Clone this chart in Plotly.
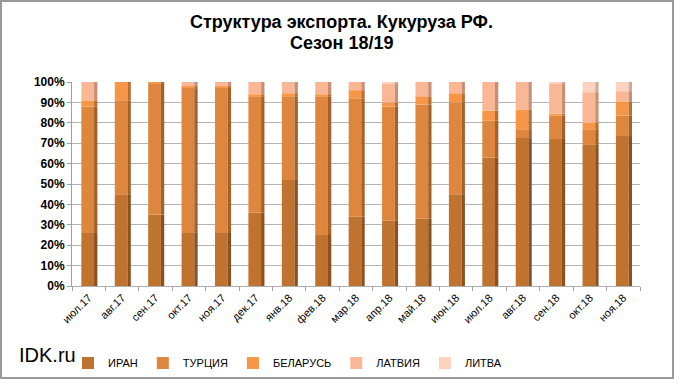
import plotly.graph_objects as go

months = ["июл.17", "авг.17", "сен.17", "окт.17", "ноя.17", "дек.17", "янв.18", "фев.18",
          "мар.18", "апр.18", "май.18", "июн.18", "июл.18", "авг.18", "сен.18", "окт.18", "ноя.18"]

iran      = [26, 45, 35, 26, 26, 36, 52, 25, 34, 32, 33, 45, 63, 72.5, 72, 69.5, 73.5]
turkey    = [62, 46, 64, 71, 71, 57, 41, 68, 58, 56, 56, 45, 18, 4, 11.5, 7, 10]
belarus   = [3, 9, 1, 1, 1, 1, 1.5, 1, 4, 2, 4, 4.5, 5, 10, 1, 3.5, 7]
latvia    = [9, 0, 0, 2, 2, 6, 5.5, 6, 4, 9.5, 7, 5.5, 14, 13.5, 15, 15, 5]
lithuania = [0, 0, 0, 0, 0, 0, 0, 0, 0, 0.5, 0, 0, 0, 0, 0.5, 5, 4.5]

series_names = ["ИРАН", "ТУРЦИЯ", "БЕЛАРУСЬ", "ЛАТВИЯ", "ЛИТВА"]
series_vals = [iran, turkey, belarus, latvia, lithuania]
front_colors = ["#C0722F", "#DE863E", "#F79646", "#F9B796", "#FBD3BF"]
side_colors = ["#8A5122", "#A3622C", "#B86E33", "#C98F75", "#D1AB98"]

fig = go.Figure()
base = [0.0] * len(months)
for name, vals, fc, sc in zip(series_names, series_vals, front_colors, side_colors):
    fr = [v / 100 for v in vals]
    fig.add_trace(go.Bar(
        x=months, y=fr, base=list(base), name=name,
        marker=dict(color=fc, line=dict(width=0)),
        width=0.38, offset=-0.22, legendgroup=name, showlegend=True,
        hoverinfo="skip"))
    fig.add_trace(go.Bar(
        x=months, y=fr, base=list(base), name=name,
        marker=dict(color=sc, line=dict(width=0)),
        width=0.1, offset=0.16, legendgroup=name, showlegend=False,
        hoverinfo="skip"))
    base = [b + f for b, f in zip(base, fr)]

L, R, T, B = 72, 40, 82, 98
W, H = 680, 384
pw, ph = W - L - R, H - T - B

def px(x):
    return (x - L) / pw

def py(y):
    return (H - B - y) / ph

fig.update_layout(
    width=W, height=H,
    barmode="overlay",
    paper_bgcolor="white", plot_bgcolor="white",
    margin=dict(l=L, r=R, t=T, b=B, autoexpand=False),
    font=dict(family="Liberation Sans, Arial", color="black"),
    xaxis=dict(type="category", tickangle=-45, showgrid=False,
               tickfont=dict(size=11, color="black"),
               ticks="outside", ticklen=4, tickcolor="#A0A0A0", tickson="boundaries",
               showline=True, linecolor="#B0B0B0"),
    yaxis=dict(range=[0, 1.0], tickvals=[i / 10 for i in range(11)],
               tickformat=".0%", showgrid=True, gridcolor="#B4B4B4", gridwidth=1,
               tickfont=dict(size=12, color="black", family="Liberation Sans, Arial",
                             weight="bold"),
               showline=True, linecolor="#A0A0A0", ticks="outside", ticklen=4,
               tickcolor="#A0A0A0", zeroline=False),
    legend=dict(orientation="h", xref="container", yref="container",
                x=0.1, y=0.055, xanchor="left", yanchor="middle",
                font=dict(family="Liberation Sans, Arial", size=11),
                itemwidth=30, traceorder="normal"),
    annotations=[
        dict(text="<b>Структура экспорта. Кукуруза РФ.</b>",
             xref="paper", yref="paper", x=px(341), y=py(22),
             xanchor="center", yanchor="middle", showarrow=False,
             font=dict(family="Liberation Sans, Arial", size=18, color="black")),
        dict(text="<b>Сезон 18/19</b>",
             xref="paper", yref="paper", x=px(341), y=py(43),
             xanchor="center", yanchor="middle", showarrow=False,
             font=dict(family="Liberation Sans, Arial", size=18, color="black")),
        dict(text="IDK.ru", xref="paper", yref="paper", x=px(17), y=py(355),
             xanchor="left", yanchor="middle", showarrow=False,
             font=dict(family="Liberation Sans, Arial", size=20, color="black"))],
    shapes=[dict(type="rect", xref="paper", yref="paper", x0=px(1), x1=px(673),
                 y0=py(378), y1=py(1), line=dict(color="#9A9A9A", width=2),
                 fillcolor="rgba(0,0,0,0)", layer="below")],
)

fig.write_html("out.html", config={"displayModeBar": False},
               post_script="document.body.style.margin='0';")
